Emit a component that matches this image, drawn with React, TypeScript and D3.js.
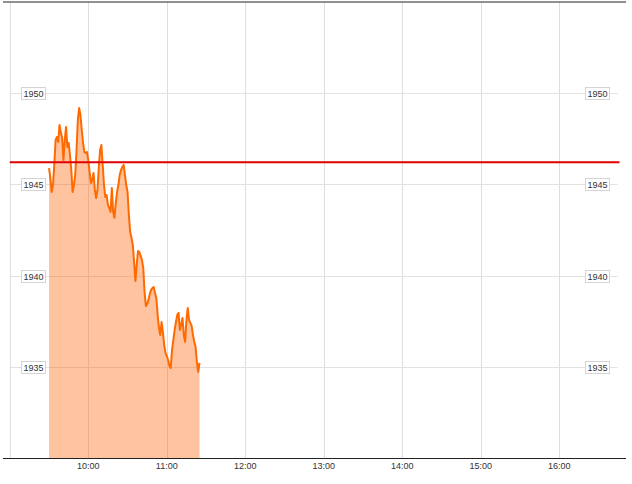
import React from "react";
import * as d3 from "d3";

// ---- data (one value per minute from startTime) ----
const startTime = "09:30";
const prices = [
  1945.89, 1945.34, 1944.58, 1944.96, 1946.06, 1947.42, 1947.59, 1947.32, 1948.25, 1947.86,
  1947.53, 1946.33, 1947.42, 1948.14, 1947.04, 1947.26, 1946.6, 1945.78, 1944.58, 1944.96,
  1945.51, 1946.88, 1948.52, 1949.18, 1948.79, 1947.97, 1947.26, 1946.77, 1946.71, 1946.77,
  1946.33, 1945.67, 1945.07, 1945.24, 1945.62, 1944.69, 1944.25, 1944.69, 1945.89, 1946.88,
  1947.15, 1946.06, 1944.96, 1944.3, 1944.41, 1943.87, 1943.7, 1943.48, 1944.8, 1943.48,
  1943.16, 1943.98, 1944.58, 1944.96, 1945.51, 1945.78, 1945.95, 1946.06, 1945.51, 1944.96,
  1944.58, 1943.32, 1942.39, 1942.06, 1941.68, 1940.75, 1939.71, 1940.58, 1941.35, 1941.29,
  1941.08, 1940.86, 1940.42, 1939.11, 1938.34, 1938.45, 1938.67, 1939.0, 1939.22, 1939.32,
  1939.38, 1939.05, 1938.78, 1937.85, 1937.14, 1936.75, 1937.46, 1936.92, 1936.21, 1935.77,
  1935.6, 1935.38, 1935.06, 1934.95, 1935.93, 1936.48, 1937.03, 1937.46, 1937.85, 1937.96,
  1937.03, 1937.3, 1937.68, 1936.75, 1936.37, 1937.57, 1938.23, 1937.57, 1937.41, 1937.25,
  1936.75, 1936.37, 1936.1, 1935.27, 1934.73, 1935.22,
];
const referenceLevel = 1946.2;
const yTicks = [1935, 1940, 1945, 1950];
const gridTimes = ["09:00", "10:00", "11:00", "12:00", "13:00", "14:00", "15:00", "16:00"];
const xTickLabels = ["10:00", "11:00", "12:00", "13:00", "14:00", "15:00", "16:00"];
const xDomain = ["09:00", "16:46"];
const yDomain = [1930, 1955];

const parse = d3.timeParse("%H:%M");
const FONT = "'Liberation Sans', Arial, sans-serif";

export default function App() {
  const W = 632;
  const H = 484;
  const left = 9.8;
  const right = 619.5;
  const top = 1.6;
  const bottom = 458.3;

  const x = d3.scaleTime().domain(xDomain.map((s) => parse(s) as Date)).range([left, right]);
  const y = d3.scaleLinear().domain(yDomain).range([bottom, top]);

  const t0 = parse(startTime) as Date;
  const data = prices.map((v, i) => ({ t: d3.timeMinute.offset(t0, i), v }));

  const area = d3
    .area<{ t: Date; v: number }>()
    .x((d) => x(d.t))
    .y0(y(yDomain[0]))
    .y1((d) => y(d.v));
  const line = d3
    .line<{ t: Date; v: number }>()
    .x((d) => x(d.t))
    .y((d) => y(d.v));

  const boxW = 24;
  const boxH = 12;

  return (
    <svg
      width={W}
      height={H}
      style={{ position: "absolute", left: 0, top: 0, background: "#fff" }}
    >
      <rect x={0} y={0} width={W} height={H} fill="#fff" />
      {/* vertical grid */}
      {gridTimes.map((s) => {
        const xx = Math.round(x(parse(s) as Date)) + 0.5;
        return (
          <line key={s} x1={xx} x2={xx} y1={2} y2={bottom} stroke="#dedede" strokeWidth={1} />
        );
      })}
      {/* horizontal grid */}
      {yTicks.map((v) => {
        const yy = Math.round(y(v)) + 0.5;
        return (
          <line key={v} x1={left} x2={right - 2} y1={yy} y2={yy} stroke="#e2e2e2" strokeWidth={1} />
        );
      })}
      {/* area + line */}
      <path d={area(data) || ""} fill="#ff6a10" fillOpacity={0.4} />
      <path
        d={line(data) || ""}
        fill="none"
        stroke="#ff6a00"
        strokeWidth={2}
        strokeLinejoin="round"
      />
      {/* reference line */}
      <line
        x1={left}
        x2={right}
        y1={y(referenceLevel)}
        y2={y(referenceLevel)}
        stroke="#e00000"
        strokeWidth={2}
      />
      {/* frame lines */}
      <line x1={3} x2={626} y1={2} y2={2} stroke="#222" strokeWidth={1} />
      <line x1={3} x2={626} y1={458.5} y2={458.5} stroke="#222" strokeWidth={1.2} />
      {/* y labels */}
      {yTicks.map((v) => {
        const yy = Math.round(y(v)) + 0.5;
        return (
          <g key={"yl" + v}>
            {[21, 585].map((bx) => (
              <g key={bx}>
                <rect
                  x={bx + 0.5}
                  y={yy - boxH / 2}
                  width={boxW}
                  height={boxH}
                  fill="#fff"
                  stroke="#d4d4d4"
                  strokeWidth={1}
                />
                <text
                  x={bx + 0.5 + boxW / 2}
                  y={yy + 0.5}
                  textAnchor="middle"
                  dominantBaseline="central"
                  fontFamily={FONT}
                  fontSize={9}
                  fill="#333"
                >
                  {v}
                </text>
              </g>
            ))}
          </g>
        );
      })}
      {/* x labels */}
      {xTickLabels.map((s) => (
        <text
          key={"xl" + s}
          x={x(parse(s) as Date)}
          y={466}
          textAnchor="middle"
          dominantBaseline="central"
          fontFamily={FONT}
          fontSize={9}
          fill="#333"
        >
          {s}
        </text>
      ))}
    </svg>
  );
}
